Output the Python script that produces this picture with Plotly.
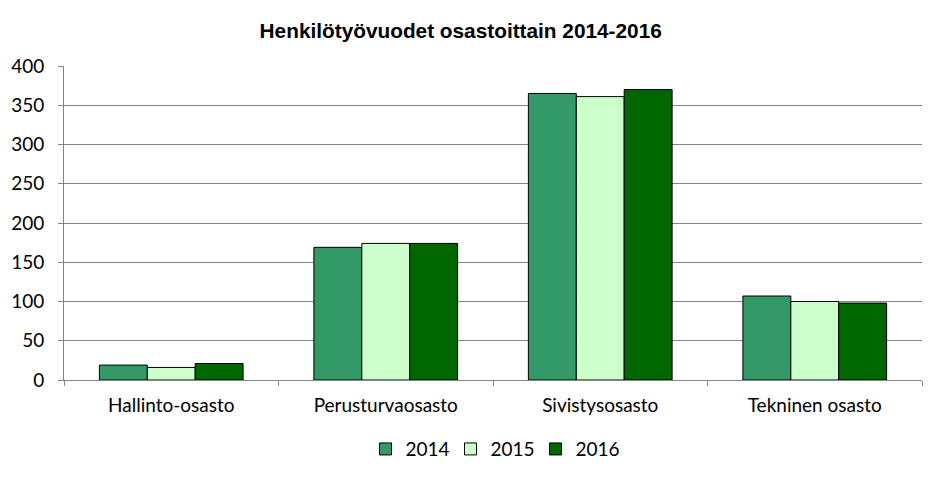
import plotly.graph_objects as go

categories = ["Hallinto-osasto", "Perusturvaosasto", "Sivistysosasto", "Tekninen osasto"]
years = ["2014", "2015", "2016"]
values_2014 = [19, 169, 365, 107]
values_2015 = [16, 174, 361, 100]
values_2016 = [21, 174, 370, 98]
colors = ["#339966", "#CCFFCC", "#006600"]

fig = go.Figure()
for name, vals, col in zip(years, [values_2014, values_2015, values_2016], colors):
    fig.add_trace(go.Bar(x=categories, y=vals, name=name,
                         marker=dict(color=col, line=dict(color="black", width=1))))

fig.update_layout(
    width=946, height=482,
    margin=dict(l=64, r=24, t=66, b=102),
    paper_bgcolor="white", plot_bgcolor="white",
    barmode="group", bargap=0.33, bargroupgap=0,
    title=dict(text="<b>Henkilötyövuodet osastoittain 2014-2016</b>",
               x=0.487, xanchor="center", y=0.937, yanchor="middle",
               font=dict(family="Liberation Sans, Arial", size=20.8, color="black")),
    font=dict(family="Lato, Calibri, sans-serif", size=19, color="black"),
    legend=dict(orientation="h", x=0.5, xanchor="center", y=-0.22, yanchor="middle",
                font=dict(size=19), traceorder="normal", itemwidth=30,
                entrywidth=40, entrywidthmode="pixels"),
    showlegend=True,
)
fig.update_xaxes(showline=True, linecolor="#868686", linewidth=1,
                 ticks="outside", tickson="boundaries", ticklen=5, tickcolor="#868686",
                 tickfont=dict(size=19), showgrid=False, ticklabelstandoff=8)
fig.update_yaxes(range=[0, 400], dtick=50, showgrid=True, gridcolor="#868686", gridwidth=1,
                 showline=True, linecolor="#868686", linewidth=1,
                 ticks="outside", ticklen=5, tickcolor="#868686",
                 tickfont=dict(size=19), zeroline=False, ticklabelstandoff=10)

fig.write_html("out.html")
